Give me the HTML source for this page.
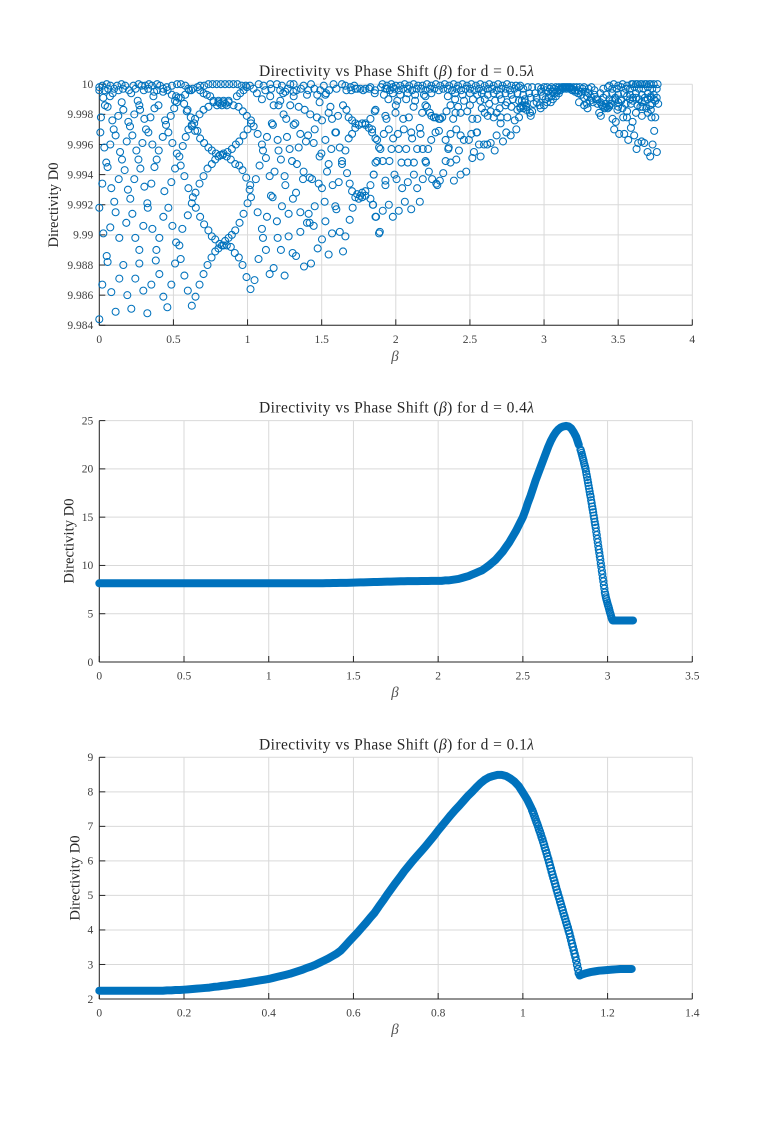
<!DOCTYPE html>
<html lang="en">
<head>
<meta charset="utf-8">
<title>Directivity vs Phase Shift</title>
<style>
html,body{margin:0;padding:0;background:#fff;}
svg{display:block;}
text{font-family:"Liberation Serif",serif;}
.title{font-size:15.5px;fill:#262626;text-anchor:middle;}
.ylab{font-size:14.5px;fill:#262626;text-anchor:middle;}
.xlab{font-size:15px;fill:#555;text-anchor:middle;font-style:italic;}
.tick{font-size:11.5px;fill:#404040;}
</style>
</head>
<body>
<svg id="figure" xmlns="http://www.w3.org/2000/svg" width="765" height="1122" viewBox="0 0 765 1122">
<rect width="765" height="1122" fill="#fff"/>
<g id="chart1"></g>
<g id="chart2"></g>
<g id="chart3"></g>
<text class="title" x="396.5" y="76" textLength="275">Directivity vs Phase Shift (<tspan font-style="italic">β</tspan>) for d = 0.5<tspan font-style="italic">λ</tspan></text>
<text class="title" x="396.5" y="412.5" textLength="275">Directivity vs Phase Shift (<tspan font-style="italic">β</tspan>) for d = 0.4<tspan font-style="italic">λ</tspan></text>
<text class="title" x="396.5" y="749.5" textLength="275">Directivity vs Phase Shift (<tspan font-style="italic">β</tspan>) for d = 0.1<tspan font-style="italic">λ</tspan></text>
<text class="ylab" transform="translate(58,205) rotate(-90)" textLength="85">Directivity D0</text>
<text class="ylab" transform="translate(73.5,541) rotate(-90)" textLength="85">Directivity D0</text>
<text class="ylab" transform="translate(79.5,878) rotate(-90)" textLength="85">Directivity D0</text>
<text class="xlab" x="395" y="361">β</text>
<text class="xlab" x="395" y="697">β</text>
<text class="xlab" x="395" y="1034">β</text>
</svg>
<script>
// ---------- Chart 1 (d = 0.5 lambda): values ----------
const c1XTicks = [0, 0.5, 1, 1.5, 2, 2.5, 3, 3.5, 4];
const c1XLabels = ["0", "0.5", "1", "1.5", "2", "2.5", "3", "3.5", "4"];
const c1YTicks = [9.984, 9.986, 9.988, 9.99, 9.992, 9.994, 9.996, 9.998, 10];
const c1YLabels = ["9.984", "9.986", "9.988", "9.99", "9.992", "9.994", "9.996", "9.998", "10"];

const lowLeftBeta = [0,.02,.081,.11,.189,.216,.243,.135,.162,.05,.056,.27,.27,.297,.324,.351,.381,.385,.405,.432,.459,.486,.511,.518,.54,.549,.574,.597,.624,.649,.676,.703,.73,.757];
const lowLeftD = [9.9844,9.9867,9.9862,9.9849,9.986,9.9851,9.9871,9.9871,9.988,9.9886,9.9882,9.9881,9.989,9.9863,9.9848,9.9867,9.9883,9.989,9.9874,9.9859,9.9852,9.9867,9.9881,9.9895,9.9893,9.9884,9.9873,9.9863,9.9853,9.9859,9.9867,9.9874,9.988,9.9885];

const midLeftBeta = [0,.011,.007,.034,.047,.056,.02,.081,.101,.11,0,.027,.074,.135,.182,.243,.223,.209,.193,.131,.074,.14,.153,.171,.236,.304,.351,.324,.327,.297,.358,.405,.432,.466,.439,.486,.372,.387,.401,.358,.291,.25,.264,.277,.185,.223,.11,.097,.088,.128,.162,.151,.056,.038,.072,.027,.196,.207,.236,.259,.27,.275,.304,.345,.315,.331,.365,.372,.399,.444,.45,.466,.428,.482,.505,.523,.493,.563,.523,.54,.549,.511,.574,.601,.649,.631,.624,.597,.493,.56,.583,.624,.59];
const midLeftD = [9.9996,9.9978,9.9968,9.9958,9.9948,9.9945,9.9934,9.9931,9.9922,9.9915,9.9918,9.9901,9.9905,9.9898,9.9908,9.9898,9.9914,9.9924,9.993,9.9937,9.996,9.9955,9.995,9.9943,9.9937,9.9932,9.9934,9.9921,9.9918,9.9906,9.9904,9.9898,9.9912,9.9918,9.9929,9.9935,9.9945,9.995,9.9956,9.996,9.9961,9.9956,9.995,9.9944,9.9962,9.9966,9.9966,9.997,9.9976,9.9979,9.9983,9.9988,9.9985,9.9986,9.9992,9.9991,9.9975,9.9972,9.998,9.9989,9.9986,9.9983,9.9977,9.9978,9.997,9.9968,9.9992,9.9984,9.9986,9.9976,9.9973,9.9968,9.9965,9.9979,9.9984,9.9988,9.9961,9.9959,9.9954,9.9952,9.9946,9.9944,9.9939,9.9931,9.9928,9.9925,9.9921,9.9913,9.9906,9.9904,9.9965,9.9972,9.9982];

const crossABeta = [.651,.68,.707,.736,.759,.782,.811,.838,.86,.887,.914,.941,.966,.993,1.02];
const crossAD = [9.9918,9.9912,9.9907,9.9903,9.9899,9.9897,9.9894,9.9893,9.9893,9.9892,9.9888,9.9885,9.988,9.9872,9.9864];
const crossBBeta = [.782,.804,.827,.849,.872,.894,.917,.946,.973,1,1.023,1.014,1.018];
const crossBD = [9.9889,9.9891,9.9893,9.9896,9.9898,9.99,9.9903,9.9908,9.9914,9.9921,9.9925,9.993,9.9933];

const eyeLowBeta = [.676,.703,.73,.759,.782,.804,.833,.86,.887,.917,.944,.966,.991,1.056];
const eyeLowD = [9.9934,9.9939,9.9944,9.9947,9.995,9.9952,9.9953,9.9952,9.995,9.9947,9.9946,9.9943,9.9938,9.9937];
const eyeMidBeta = [.646,.68,.707,.736,.759,.786,.815,.838,.865,.894,.921,.944,.973,1,1.023];
const eyeMidD = [9.9969,9.9964,9.9961,9.9958,9.9956,9.9954,9.9953,9.9954,9.9955,9.9957,9.996,9.9962,9.9966,9.997,9.9974];
const eyeArcBeta = [.601,.624,.646,.676,.703,.736,.77,.804,.838,.872,.905,.939,.968,.995,1.023,1.041,.77,.804,.838,.872,.794,.827,.86,.815,.85];
const eyeArcD = [9.997,9.9973,9.9977,9.998,9.9983,9.9985,9.9988,9.9988,9.9988,9.9988,9.9986,9.9985,9.9982,9.9979,9.9976,9.9972,9.9989,9.9989,9.9989,9.9989,9.9986,9.9986,9.9986,9.9987,9.9987];
const eyeTopBeta = [.662,.68,.703,.725,.748,.928,.95,.973,.995,.68,.708,.736,.764,.792,.82,.848,.876,.904,.932,.96,.988,1.016];
const eyeTopD = [9.9998,9.9996,9.9994,9.9993,9.9992,9.9992,9.9994,9.9996,9.9998,9.9999,9.9999,10,10,10,10,10,10,10,10,9.9999,9.9999,9.9999];
const slopeBeta = [.572,.595,.617,.64,.662,.489,.518,.55,.579,.606,.631,.432,.455,.511,.534];
const slopeD = [9.9987,9.9983,9.9978,9.9974,9.9969,9.9993,9.9992,9.9991,9.9993,9.9996,9.9997,9.9997,9.9998,9.9989,9.9991];
const topLeftBeta = [.02,.05,.075,.12,.15,.175,.23,.265,.285,.31,.335,.355,.39,.41,.49,.525,.55,.58];
const topLeftD = [9.9999,10,9.9999,9.9999,10,9.9999,9.9999,10,9.9999,9.9999,10,9.9999,10,9.9999,9.9999,10,10,9.9999];
const secondLeftBeta = [0,.035,.06,.1,.13,.16,.2,.245,.3,.33,.37,.43,.46,.6,.62,.215,.39,.09];
const secondLeftD = [9.9998,9.9996,9.9997,9.9997,9.9996,9.9997,9.9996,9.9997,9.9996,9.9997,9.9995,9.9995,9.9996,9.9997,9.9996,9.9994,9.9996,9.9994];

const rightOneBeta = [1.068,1.097,1.104,1.124,1.081,1.149,1.182,1.25,1.255,1.306,1.327,1.356,1.412,1.401,1.356,1.277,1.203,1.198,1.277,1.232,1.158,1.169,1.068,1.131,1.097,1.104,1.124,1.074,1.225,1.304,1.327,1.381,1.428,1.25,1.176,1.149,1.047];
const rightOneD = [9.9967,9.996,9.9956,9.9951,9.9946,9.9939,9.9942,9.9939,9.9933,9.9924,9.9928,9.9915,9.9914,9.9908,9.9902,9.9899,9.9898,9.9909,9.9914,9.9919,9.9926,9.9925,9.9915,9.9912,9.9904,9.9898,9.989,9.9884,9.989,9.9888,9.9886,9.9879,9.9881,9.9873,9.9878,9.9874,9.987];
const rightTwoBeta = [1.131,1.203,1.209,1.225,1.284,1.3,1.333,1.345,1.356,1.394,1.408,1.446,1.468,1.423,1.385,1.345,1.288,1.243,1.261,1.209,1.221,1.164,1.171,1.311,1.322,1.266,1.453,1.502,1.559,1.547,1.525,1.565,1.61,1.57,1.486,1.498,1.547];
const rightTwoD = [9.9965,9.9963,9.9956,9.995,9.9957,9.9949,9.9947,9.9958,9.9967,9.9962,9.9966,9.9961,9.9978,9.998,9.9983,9.9985,9.9986,9.998,9.9977,9.9986,9.9989,9.9974,9.9973,9.9973,9.9974,9.9965,9.997,9.9976,9.9985,9.9981,9.9963,9.9957,9.9979,9.9977,9.9952,9.9954,9.9947];
const rightThreeBeta = [1.435,1.378,1.374,1.419,1.48,1.502,1.574,1.615,1.536,1.637,1.637,1.671,1.622,1.66,1.592,1.597,1.52,1.592,1.599,1.453,1.419,1.446,1.525,1.502,1.473,1.547,1.57,1.622,1.66,1.644,1.486,1.525,1.401,1.311,1.255,1.153,1.176,1.097,1.063];
const rightThreeD = [9.9937,9.9942,9.9937,9.9938,9.9934,9.9931,9.9933,9.9935,9.9942,9.9947,9.9949,9.9941,9.9958,9.9956,9.9968,9.9968,9.9922,9.9919,9.9917,9.9919,9.9908,9.9906,9.9909,9.9897,9.9891,9.9887,9.9901,9.9902,9.9899,9.9889,9.9988,9.9993,9.9993,9.9992,9.9995,9.9992,9.9986,9.999,9.9994];
const topMidBeta = [1.075,1.108,1.153,1.198,1.232,1.288,1.311,1.378,1.428,1.514,1.58,1.637,1.66,1.72,1.04,1.12,1.16,1.22,1.27,1.33,1.36,1.41,1.45,1.49,1.55,1.6,1.7,1.74,1.78,1.82,1.86,1.9,1.94,1.98,1.47,1.53,1.31,1.24];
const topMidD = [10,9.9999,10,10,9.9999,10,10,9.9999,10,9.9999,10,10,9.9999,9.9999,9.9997,9.9996,9.9997,9.9996,9.9997,9.9996,9.9997,9.9996,9.9997,9.9996,9.9996,9.9997,9.9996,9.9997,9.9996,9.9997,9.9996,9.9998,9.9997,9.9998,9.9993,9.9994,9.9995,9.9994];
const eyeTwoBeta = [1.682,1.705,1.727,1.75,1.773,1.795,1.818,1.84,1.874,1.667,1.682,1.705,1.727,1.75,1.795,1.829,1.858,1.694,1.727,1.761,1.795,1.829,1.644,1.667,1.858];
const eyeTwoD = [9.9964,9.9967,9.9971,9.9973,9.9974,9.9974,9.9971,9.9968,9.9963,9.9983,9.9978,9.9976,9.9974,9.9973,9.9973,9.9977,9.9982,9.9998,9.9997,9.9997,9.9997,9.9998,9.9986,9.9996,9.9994];
const crossTwoBeta = [1.689,1.705,1.727,1.75,1.773,1.795,1.829,1.851,1.874,1.896,1.709,1.689,1.739,1.773,1.795,1.829,1.845,1.867,1.887,1.76];
const crossTwoD = [9.9934,9.9929,9.9925,9.9924,9.9925,9.9929,9.9933,9.994,9.9949,9.9957,9.9918,9.991,9.9927,9.9928,9.9926,9.9924,9.992,9.9912,9.9901,9.9926];

const farLowBeta = [1.892,1.863,1.912,1.953,1.98,2.02,2.061,2.104,2.162,1.847,1.863,1.912,1.957,2.038,2.081,2.122,2.2,2.204,2.336,2.369,2.408,2.516,2.572,2.64,2.595,2.667,2.617,2.561,2.527];
const farLowD = [9.9902,9.9912,9.9916,9.992,9.9912,9.9916,9.9922,9.9917,9.9922,9.992,9.9948,9.9949,9.9949,9.9948,9.9948,9.9948,9.9949,9.9948,9.9949,9.9948,9.995,9.9951,9.9952,9.9961,9.996,9.9956,9.996,9.996,9.9955];
const farMidBeta = [1.851,1.93,1.93,1.991,2.005,2.043,2.081,2.122,2.144,2.182,2.223,2.245,2.273,2.28,2.297,2.32,2.392,2.437,2.475,1.887,1.971,2.02,2.07,2.144,2.182,2.218,2.354,2.357,2.426];
const farMidD = [9.994,9.9936,9.9933,9.994,9.9937,9.9931,9.9935,9.994,9.9931,9.9937,9.9942,9.9937,9.9934,9.9933,9.9936,9.9941,9.9936,9.994,9.9942,9.9958,9.9957,9.9957,9.9957,9.9957,9.9957,9.9957,9.9957,9.9958,9.9956];
const farHighBeta = [2.336,2.239,2.459,2.493,2.509,2.545,2.548,2.369,2.408,2.437,2.291,2.268,2.167,2.104,2.11,2.014,1.982,1.919,1.953,1.863,1.84,2.054,2.162,2.723,2.68,2.745,2.775,2.813,2.707,2.707,2.752,2.802,2.831,2.55,2.516,2.437,2.387,2.403,2.482,2.2,2.178,2.088,2.05,1.998,1.93,1.937,1.863];
const farHighD = [9.9963,9.9963,9.9963,9.9963,9.9967,9.9968,9.9968,9.9967,9.997,9.9966,9.9969,9.9968,9.9967,9.9968,9.9964,9.9967,9.9964,9.9967,9.997,9.9964,9.997,9.997,9.9971,9.9962,9.9966,9.9968,9.9966,9.997,9.9974,9.9978,9.9978,9.9976,9.9978,9.9977,9.9977,9.9981,9.9977,9.9981,9.9982,9.9986,9.9981,9.9978,9.9977,9.9981,9.9979,9.9977,9.9983];
const eyeThreeBeta = [2.23,2.257,2.291,2.313,2.342,2.369,2.351,2.2,2.21,2.27,2.3,2.24];
const eyeThreeD = [9.9981,9.9978,9.9977,9.9978,9.9982,9.9986,9.9992,9.9992,9.9985,9.9978,9.9977,9.9979];
const vLeftBeta = [2.91,2.854,2.876,3,3.045,2.977,2.905,2.84,2.86,2.88,2.87,2.85,2.93,2.95,2.97,3.02,3.06,3.08,3.1];
const vLeftD = [9.9979,9.9986,9.9986,9.9986,9.9988,9.9984,9.9981,9.9984,9.9984,9.9985,9.9988,9.9989,9.9987,9.9988,9.9986,9.9988,9.999,9.9992,9.9994];
const farRightBeta = [3.473,3.507,3.541,3.568,3.608,3.624,3.635,3.658,3.676,3.698,3.716,3.761,3.732,3.743,3.586,3.597,3.534,3.559,3.462,3.484,3.383,3.372,3.75,3.725,3.77,3.716,3.664,3.631,3.586,3.529,3.495,3.439,3.417,3.394,3.293,3.27,3.236,3.766];
const farRightD = [9.997,9.9967,9.9967,9.9963,9.9966,9.9957,9.9961,9.9962,9.9961,9.9955,9.9952,9.9955,9.996,9.9969,9.9971,9.9975,9.9978,9.9978,9.9977,9.9975,9.9979,9.9981,9.9978,9.9978,9.9987,9.9986,9.9985,9.9986,9.9987,9.9984,9.9983,9.9986,9.9987,9.9986,9.9984,9.9986,9.9988,10];
const clusterRightBeta = [3.4,3.41,3.42,3.43,3.44,3.45,3.39,3.38,3.46,3.35,3.33,3.31,3.29,3.48,3.5,3.52,3.55,3.58,3.6,3.62,3.64,3.66,3.68,3.7,3.72,3.74,3.76,3.65,3.69,3.73];
const clusterRightD = [9.9985,9.9984,9.9985,9.9984,9.9985,9.9987,9.9986,9.9988,9.9989,9.999,9.9988,9.9989,9.9987,9.999,9.9988,9.9989,9.9987,9.999,9.9989,9.9991,9.999,9.9988,9.9989,9.999,9.9991,9.999,9.9991,9.9985,9.9984,9.9987];

const bandRowABeta = [1.91,1.94,1.97,2,2.03,2.06,2.09,2.12,2.15,2.18,2.21,2.24,2.27,2.3,2.33,2.36,2.39,2.42,2.45,2.48,2.51,2.54,2.57,2.6,2.63,2.66,2.69,2.72,2.75,2.78,2.81,2.84,3.44,3.47,3.5,3.53,3.56,3.59,3.6,3.62,3.63,3.65,3.66,3.68,3.69,3.71,3.72,3.74];
const bandRowAD = [10,9.9999,10,9.9999,9.9999,10,9.9999,10,9.9999,9.9999,10,9.9999,10,9.9999,10,9.9999,10,9.9999,10,9.9999,10,9.9999,10,9.9999,10,9.9999,10,9.9999,10,9.9999,9.9999,9.9999,9.9999,10,9.9999,10,9.9999,10,10,10,10,10,10,10,10,10,10,10];
const bandRowBBeta = [1.93,1.96,1.99,2.02,2.05,2.08,2.11,2.14,2.17,2.2,2.23,2.26,2.29,2.32,2.35,2.38,2.41,2.44,2.47,2.5,2.53,2.56,2.59,2.62,2.65,2.68,2.71,2.74,2.77,2.8,2.83,2.86,2.89,2.92,3.4,3.43,3.46,3.49,3.52,3.55,3.58,3.61,3.64,3.67,3.7,3.73,3.76];
const bandRowBD = [9.9997,9.9996,9.9997,9.9996,9.9997,9.9997,9.9996,9.9997,9.9997,9.9996,9.9997,9.9997,9.9996,9.9997,9.9997,9.9996,9.9997,9.9996,9.9997,9.9997,9.9996,9.9997,9.9996,9.9997,9.9997,9.9996,9.9997,9.9997,9.9996,9.9997,9.9998,9.9997,9.9998,9.9998,9.9997,9.9998,9.9997,9.9997,9.9998,9.9997,9.9997,9.9998,9.9997,9.9997,9.9998,9.9997,9.9997];
const bandRowCBeta = [1.92,1.98,2.03,2.08,2.13,2.19,2.24,2.4,2.45,2.5,2.55,2.58,2.62,2.66,2.7,2.74,2.78,2.82,2.86,2.9,2.94,2.98,3.3,3.34,3.38,3.42,3.46,3.5,3.54,3.58,3.62,3.66,3.7,3.74];
const bandRowCD = [9.9993,9.9994,9.9993,9.9994,9.9993,9.9993,9.9994,9.9994,9.9993,9.9994,9.9993,9.9994,9.9993,9.9994,9.9993,9.9994,9.9993,9.9994,9.9993,9.9994,9.9994,9.9995,9.9994,9.9993,9.9994,9.9993,9.9994,9.9993,9.9994,9.9993,9.9994,9.9993,9.9994,9.9993];
const bandRowDBeta = [1.95,2.01,2.07,2.13,2.4,2.46,2.52,2.57,2.6,2.63,2.67,2.71,2.75,2.79,2.83,2.87,2.91,2.95,2.99,3.32,3.36,3.4,3.44,3.48,3.52,3.56,3.6,3.64,3.68,3.72,3.75];
const bandRowDD = [9.999,9.9989,9.999,9.9989,9.999,9.9989,9.999,9.9989,9.999,9.9987,9.9989,9.999,9.9988,9.999,9.9989,9.999,9.9991,9.9991,9.9992,9.9991,9.999,9.9991,9.999,9.9991,9.999,9.9992,9.9991,9.999,9.9991,9.9992,9.9989];
const bandRowEBeta = [2.0,2.12,2.42,2.5,2.58,2.6,2.62,2.64,2.66,2.68,2.7,2.74,2.78,2.82,2.84,2.88,2.92,3.36,3.5,3.56,3.62,3.66,3.7,3.72];
const bandRowED = [9.9986,9.9985,9.9985,9.9986,9.9984,9.9981,9.9979,9.9982,9.9978,9.9981,9.9984,9.9986,9.9985,9.9983,9.9985,9.9983,9.9982,9.9987,9.9985,9.9982,9.9981,9.9979,9.9981,9.9983];
const spineBeta = [2.96,2.98,3,3.01,3.02,3.03,3.04,3.05,3.06,3.07,3.08,3.09,3.1,3.11,3.12,3.13,3.14,3.15,3.16,3.17,3.18,3.19,3.2,3.21,3.22,3.23,3.24,3.25,3.26,3.27,3.28,3.3,3.32,3.34,3.05,3.07,3.09,3.11,3.13,3.15,3.17,3.19,3.21,3.23,3.25,3.03,3.27,3.01,3.29];
const spineD = [9.9998,9.9997,9.9998,9.9996,9.9998,9.9995,9.9997,9.9998,9.9995,9.9997,9.9998,9.9996,9.9998,9.9997,9.9998,9.9998,9.9998,9.9998,9.9998,9.9998,9.9998,9.9997,9.9998,9.9996,9.9998,9.9996,9.9998,9.9995,9.9997,9.9998,9.9995,9.9997,9.9998,9.9996,9.9992,9.9994,9.9995,9.9996,9.9997,9.9997,9.9997,9.9996,9.9995,9.9994,9.9993,9.9991,9.9991,9.999,9.9992];

// ---------- Chart 2 (d = 0.4 lambda) ----------
const c2XTicks = [0, 0.5, 1, 1.5, 2, 2.5, 3, 3.5];
const c2XLabels = ["0", "0.5", "1", "1.5", "2", "2.5", "3", "3.5"];
const c2YTicks = [0, 5, 10, 15, 20, 25];
const c2YLabels = ["0", "5", "10", "15", "20", "25"];
const flatBeta2 = [0,.02,.04,.06,.08,.1,.12,.14,.16,.18,.2,.22,.24,.26,.28,.3,.32,.34,.36,.38,.4,.42,.44,.46,.48,.5,.52,.54,.56,.58,.6,.62,.64,.66,.68,.7,.72,.74,.76,.78,.8,.82,.84,.86,.88,.9,.92,.94,.96,.98,1,1.02,1.04,1.06,1.08,1.1,1.12,1.14,1.16,1.18,1.2,1.22,1.24,1.26,1.28,1.3,1.32,1.34,1.36,1.38,1.4,1.42,1.44,1.46,1.48,1.5,1.52,1.54,1.56,1.58,1.6,1.62,1.64,1.66,1.68,1.7,1.72,1.74,1.76,1.78,1.8,1.82,1.84,1.86,1.88,1.9,1.92,1.94,1.96,1.98];
const flatD2 = [8.15,8.15,8.15,8.15,8.15,8.15,8.15,8.15,8.15,8.15,8.15,8.15,8.15,8.15,8.15,8.15,8.15,8.15,8.15,8.15,8.15,8.15,8.15,8.15,8.15,8.15,8.15,8.15,8.15,8.15,8.15,8.15,8.15,8.15,8.15,8.15,8.15,8.15,8.15,8.15,8.15,8.15,8.15,8.15,8.15,8.15,8.15,8.15,8.15,8.15,8.15,8.15,8.15,8.15,8.15,8.15,8.15,8.15,8.15,8.15,8.15,8.15,8.15,8.15,8.15,8.16,8.16,8.17,8.17,8.18,8.18,8.19,8.2,8.2,8.21,8.22,8.23,8.24,8.25,8.26,8.27,8.28,8.29,8.3,8.31,8.32,8.33,8.34,8.35,8.36,8.36,8.37,8.37,8.38,8.38,8.39,8.39,8.39,8.4,8.4];
const riseBeta2 = [2,2.02,2.04,2.06,2.08,2.1,2.12,2.14,2.16,2.18,2.2,2.22,2.24,2.26,2.28,2.3,2.32,2.34,2.36,2.38,2.4,2.42,2.44,2.46,2.48,2.5,2.515,2.53,2.545,2.56,2.575,2.59,2.605,2.62,2.635,2.65,2.665,2.68,2.695,2.71,2.725,2.74,2.755,2.77,2.785,2.8,2.815,2.83];
const riseD2 = [8.4,8.4,8.45,8.45,8.5,8.55,8.6,8.7,8.8,8.9,9.05,9.2,9.35,9.5,9.75,10,10.3,10.6,11,11.4,11.9,12.4,13,13.6,14.3,15,15.7,16.5,17.2,18,18.8,19.5,20.2,20.9,21.6,22.3,22.9,23.4,23.8,24.1,24.3,24.4,24.45,24.4,24.2,23.8,23.3,22.5];
const fallBeta2 = [2.84,2.843,2.846,2.849,2.852,2.855,2.858,2.861,2.864,2.867,2.87,2.873,2.876,2.879,2.882,2.885,2.888,2.891,2.894,2.897,2.9,2.903,2.906,2.909,2.912,2.915,2.918,2.921,2.924,2.927,2.93,2.933,2.936,2.939,2.942,2.945,2.948,2.951,2.954,2.957,2.96,2.963,2.966,2.969,2.972,2.975,2.978,2.981,2.984,2.987,2.99,2.993,2.996,2.999,3.002,3.005,3.008,3.011,3.014,3.017,3.02,3.023,3.026];
const fallD2 = [22,21.85,21.65,21.45,21.25,21.05,20.85,20.6,20.4,20.2,20,19.7,19.4,19.15,18.85,18.55,18.25,17.95,17.65,17.35,17.1,16.75,16.45,16.1,15.8,15.5,15.15,14.85,14.5,14.2,13.9,13.5,13.15,12.75,12.4,12,11.65,11.3,10.95,10.6,10.2,9.85,9.45,9.1,8.7,8.35,7.95,7.6,7.2,6.95,6.7,6.5,6.3,6.1,5.9,5.75,5.55,5.35,5.15,5,4.8,4.6,4.45];
const tailBeta2 = [3.03,3.04,3.05,3.06,3.07,3.08,3.09,3.1,3.11,3.12,3.13,3.14,3.15];
const tailD2 = [4.3,4.3,4.3,4.3,4.3,4.3,4.3,4.3,4.3,4.3,4.3,4.3,4.3];

// ---------- Chart 3 (d = 0.1 lambda) ----------
const c3XTicks = [0, 0.2, 0.4, 0.6, 0.8, 1, 1.2, 1.4];
const c3XLabels = ["0", "0.2", "0.4", "0.6", "0.8", "1", "1.2", "1.4"];
const c3YTicks = [2, 3, 4, 5, 6, 7, 8, 9];
const c3YLabels = ["2", "3", "4", "5", "6", "7", "8", "9"];
const riseBeta3 = [0,.01,.02,.03,.04,.05,.06,.07,.08,.09,.1,.11,.12,.13,.14,.15,.16,.17,.18,.19,.2,.21,.22,.23,.24,.25,.26,.27,.28,.29,.3,.31,.32,.33,.34,.35,.36,.37,.38,.39,.4,.41,.42,.43,.44,.45,.46,.47,.48,.49,.5,.51,.52,.53,.54,.55,.56,.57,.58,.59,.6,.61,.62,.63,.64,.65,.66,.67,.68,.69,.7,.71,.72,.73,.74,.75,.76,.77,.78,.79,.8,.81,.82,.83,.84,.85,.86,.87,.88,.89,.9,.91,.92,.93,.94,.95,.96,.97,.98,.99,1,1.01,1.02];
const riseD3 = [2.24,2.24,2.24,2.24,2.24,2.24,2.24,2.24,2.24,2.24,2.24,2.24,2.24,2.24,2.24,2.24,2.25,2.25,2.26,2.26,2.27,2.28,2.29,2.3,2.31,2.32,2.33,2.35,2.36,2.38,2.39,2.41,2.43,2.44,2.46,2.48,2.5,2.52,2.54,2.56,2.58,2.61,2.64,2.67,2.7,2.73,2.77,2.81,2.85,2.9,2.94,2.99,3.05,3.11,3.17,3.24,3.31,3.4,3.53,3.67,3.8,3.93,4.07,4.21,4.36,4.5,4.68,4.85,5.03,5.2,5.37,5.53,5.7,5.85,6,6.14,6.28,6.42,6.57,6.72,6.88,7.03,7.18,7.33,7.47,7.6,7.74,7.88,8,8.13,8.25,8.35,8.42,8.46,8.49,8.49,8.46,8.39,8.3,8.17,7.98,7.78,7.53];
const fallBeta3 = [1.022,1.024,1.026,1.028,1.03,1.032,1.034,1.036,1.038,1.04,1.042,1.044,1.046,1.048,1.05,1.052,1.054,1.056,1.058,1.06,1.062,1.064,1.066,1.068,1.07,1.072,1.074,1.076,1.078,1.08,1.082,1.084,1.086,1.088,1.09,1.092,1.094,1.096,1.098,1.1,1.102,1.104,1.106,1.108,1.11,1.112,1.114,1.116,1.118,1.12,1.122,1.124,1.126,1.128,1.13,1.132];
const fallD3 = [7.47,7.41,7.34,7.27,7.2,7.13,7.07,7,6.92,6.85,6.78,6.7,6.63,6.55,6.47,6.38,6.3,6.22,6.13,6.05,5.96,5.87,5.78,5.69,5.6,5.51,5.43,5.34,5.25,5.16,5.08,4.99,4.91,4.82,4.74,4.65,4.57,4.48,4.4,4.32,4.23,4.15,4.07,3.98,3.9,3.8,3.7,3.6,3.51,3.41,3.31,3.22,3.11,2.99,2.87,2.75];
const tailBeta3 = [1.134,1.14,1.15,1.16,1.17,1.18,1.19,1.2,1.21,1.22,1.23,1.24,1.25,1.257];
const tailD3 = [2.68,2.71,2.75,2.78,2.8,2.82,2.83,2.84,2.85,2.86,2.87,2.87,2.87,2.87];

const BLUE = "#0072BD";
const SVG_NS = "http://www.w3.org/2000/svg";
const plotLeft = 99.3, plotRight = 692.3;

function xScale(xMax) { return function (v) { return plotLeft + (v / xMax) * (plotRight - plotLeft); }; }
function yScale(yMin, yMax, top, bottom) { return function (v) { return bottom - ((v - yMin) / (yMax - yMin)) * (bottom - top); }; }

function makeLine(parent, x1, y1, x2, y2, color, width) {
  const el = document.createElementNS(SVG_NS, "line");
  el.setAttribute("x1", x1); el.setAttribute("y1", y1);
  el.setAttribute("x2", x2); el.setAttribute("y2", y2);
  el.setAttribute("stroke", color); el.setAttribute("stroke-width", width);
  parent.appendChild(el);
  return el;
}

function drawAxes(group, X, Y, xTicks, xLabels, yTicks, yLabels, top, bottom) {
  xTicks.forEach(function (t) {
    const grid = makeLine(group, X(t), top, X(t), bottom, "#d9d9d9", 1);
    
    
  });
  yTicks.forEach(function (t) {
    const grid = makeLine(group, plotLeft, Y(t), plotRight, Y(t), "#d9d9d9", 1);
    
    
  });
  const xAxis = makeLine(group, plotLeft, bottom, plotRight, bottom, "#262626", 1);
  
  
  const yAxis = makeLine(group, plotLeft, top, plotLeft, bottom, "#262626", 1);
  
  
  xTicks.forEach(function (t, i) {
    const mark = makeLine(group, X(t), bottom, X(t), bottom - 6, "#262626", 1);
    
    
    const label = document.createElementNS(SVG_NS, "text");
    label.setAttribute("class", "tick");
    label.setAttribute("x", X(t));
    label.setAttribute("y", bottom + 17.5);
    label.setAttribute("text-anchor", "middle");
    label.textContent = xLabels[i];
    
    
    group.appendChild(label);
  });
  yTicks.forEach(function (t, i) {
    const mark = makeLine(group, plotLeft, Y(t), plotLeft + 6, Y(t), "#262626", 1);
    
    
    const label = document.createElementNS(SVG_NS, "text");
    label.setAttribute("class", "tick");
    label.setAttribute("x", plotLeft - 6);
    label.setAttribute("y", Y(t) + 3.8);
    label.setAttribute("text-anchor", "end");
    label.textContent = yLabels[i];
    
    
    group.appendChild(label);
  });
}

// Open rings, one per data point.
function drawRings(group, X, Y, betas, values, strokeWidth) {
  const n = Math.min(betas.length, values.length);
  for (let i = 0; i < n; i++) {
    const c = document.createElementNS(SVG_NS, "circle");
    c.setAttribute("cx", X(betas[i]).toFixed(2));
    c.setAttribute("cy", Y(values[i]).toFixed(2));
    c.setAttribute("r", 3.5);
    c.setAttribute("fill", "none");
    c.setAttribute("stroke", BLUE);
    c.setAttribute("stroke-width", strokeWidth);
    
    
    group.appendChild(c);
  }
}

// Where the real markers overlap into a solid band: a round-joined stroke through the points.
function drawBand(group, X, Y, betas, values) {
  const n = Math.min(betas.length, values.length);
  const pts = [];
  for (let i = 0; i < n; i++) {
    pts.push(X(betas[i]).toFixed(2) + "," + Y(values[i]).toFixed(2));
  }
  const line = document.createElementNS(SVG_NS, "polyline");
  line.setAttribute("points", pts.join(" "));
  line.setAttribute("fill", "none");
  line.setAttribute("stroke", BLUE);
  line.setAttribute("stroke-width", 8);
  line.setAttribute("stroke-linecap", "round");
  line.setAttribute("stroke-linejoin", "round");
  
  
  group.appendChild(line);
}

// Chart 1
(function () {
  const top = 84.2, bottom = 325.3;
  const X = xScale(4), Y = yScale(9.984, 10, top, bottom);
  const g = document.getElementById("chart1");
  drawAxes(g, X, Y, c1XTicks, c1XLabels, c1YTicks, c1YLabels, top, bottom);
  const groups = [
    [lowLeftBeta, lowLeftD], [midLeftBeta, midLeftD], [crossABeta, crossAD], [crossBBeta, crossBD],
    [eyeLowBeta, eyeLowD], [eyeMidBeta, eyeMidD], [eyeArcBeta, eyeArcD], [eyeTopBeta, eyeTopD],
    [slopeBeta, slopeD], [topLeftBeta, topLeftD], [secondLeftBeta, secondLeftD],
    [rightOneBeta, rightOneD], [rightTwoBeta, rightTwoD], [rightThreeBeta, rightThreeD],
    [topMidBeta, topMidD], [eyeTwoBeta, eyeTwoD], [crossTwoBeta, crossTwoD],
    [farLowBeta, farLowD], [farMidBeta, farMidD], [farHighBeta, farHighD], [eyeThreeBeta, eyeThreeD],
    [vLeftBeta, vLeftD], [farRightBeta, farRightD], [clusterRightBeta, clusterRightD],
    [bandRowABeta, bandRowAD], [bandRowBBeta, bandRowBD], [bandRowCBeta, bandRowCD],
    [bandRowDBeta, bandRowDD], [bandRowEBeta, bandRowED], [spineBeta, spineD]
  ];
  groups.forEach(function (pair) { drawRings(g, X, Y, pair[0], pair[1], 1.05); });
})();

// Chart 2
(function () {
  const top = 420.6, bottom = 662;
  const X = xScale(3.5), Y = yScale(0, 25, top, bottom);
  const g = document.getElementById("chart2");
  drawAxes(g, X, Y, c2XTicks, c2XLabels, c2YTicks, c2YLabels, top, bottom);
  drawBand(g, X, Y, flatBeta2.concat(riseBeta2), flatD2.concat(riseD2));
  drawRings(g, X, Y, fallBeta2, fallD2, 1.2);
  drawBand(g, X, Y, tailBeta2, tailD2);
})();

// Chart 3
(function () {
  const top = 757.3, bottom = 999;
  const X = xScale(1.4), Y = yScale(2, 9, top, bottom);
  const g = document.getElementById("chart3");
  drawAxes(g, X, Y, c3XTicks, c3XLabels, c3YTicks, c3YLabels, top, bottom);
  drawBand(g, X, Y, riseBeta3, riseD3);
  drawRings(g, X, Y, fallBeta3, fallD3, 1.5);
  drawBand(g, X, Y, tailBeta3, tailD3);
})();
</script>
</body>
</html>
